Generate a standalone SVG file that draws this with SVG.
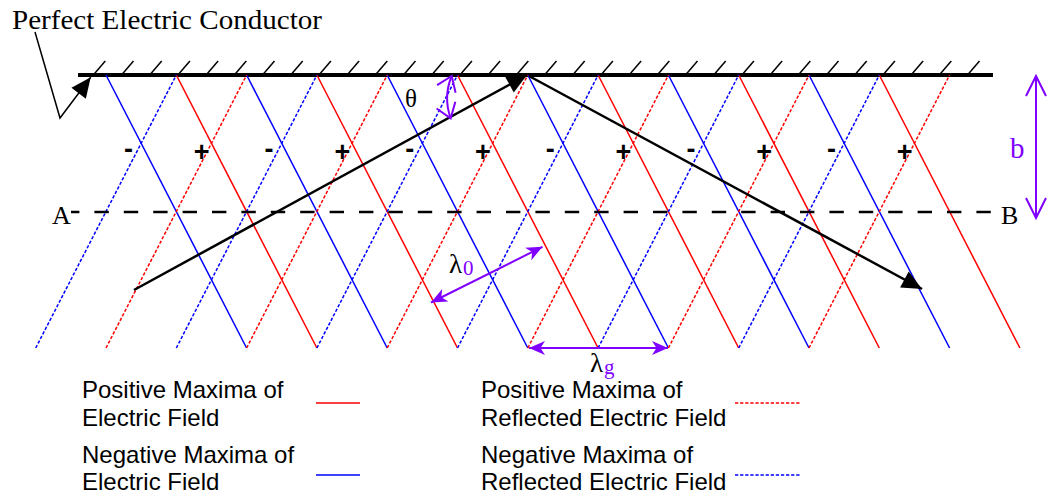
<svg xmlns="http://www.w3.org/2000/svg" width="1048" height="499" viewBox="0 0 1048 499">
<style>
.ser{font-family:"Liberation Serif","Times New Roman",serif;fill:#000}
.san{font-family:"Liberation Sans",Arial,sans-serif;fill:#000}
.pm{font-family:"Liberation Sans",Arial,sans-serif;font-weight:bold;font-size:27px;text-anchor:middle}
.pur{fill:#8000ff}
.r{stroke:#ff0000;stroke-width:1.5;fill:none}
.b{stroke:#0000ff;stroke-width:1.5;fill:none}
.rd{stroke:#ff0000;stroke-width:1.5;fill:none;stroke-dasharray:3.3 1.8}
.bd{stroke:#0000ff;stroke-width:1.5;fill:none;stroke-dasharray:3.3 1.8}
.hat{stroke:#000;stroke-width:1.5}
.pa{stroke:#8000ff;stroke-width:2;fill:none}
</style>
<defs>
<marker id="blk" markerUnits="userSpaceOnUse" markerWidth="22" markerHeight="20" refX="20" refY="9" orient="auto" overflow="visible"><path d="M0,0 L20,9 L0,18 Z" fill="#000"/></marker>
<marker id="stl" markerUnits="userSpaceOnUse" markerWidth="18" markerHeight="16" refX="16" refY="7" orient="auto-start-reverse" overflow="visible"><path d="M16,7 L0,0 L4.5,7 L0,14 Z" fill="#8000ff"/></marker>
<marker id="chv" markerUnits="userSpaceOnUse" markerWidth="16" markerHeight="22" refX="14" refY="10" orient="auto-start-reverse" overflow="visible"><path d="M0,0 L14,10 L0,20" fill="none" stroke="#8000ff" stroke-width="2"/></marker>
<marker id="chv2" markerUnits="userSpaceOnUse" markerWidth="22" markerHeight="22" refX="20" refY="10" orient="auto-start-reverse" overflow="visible"><path d="M0,0 L20,10 L0,20" fill="none" stroke="#8000ff" stroke-width="2"/></marker>
</defs>
<rect width="1048" height="499" fill="#fff"/>

<g id="conductor">
<line x1="78" y1="75" x2="993" y2="75" stroke="#000" stroke-width="4"/>
<g class="hat">
<line x1="93.3" y1="75" x2="105.3" y2="61"/><line x1="121.5" y1="75" x2="133.5" y2="61"/><line x1="149.7" y1="75" x2="161.7" y2="61"/><line x1="177.9" y1="75" x2="189.9" y2="61"/><line x1="206.1" y1="75" x2="218.1" y2="61"/><line x1="234.3" y1="75" x2="246.3" y2="61"/><line x1="262.5" y1="75" x2="274.5" y2="61"/><line x1="290.7" y1="75" x2="302.7" y2="61"/><line x1="318.9" y1="75" x2="330.9" y2="61"/><line x1="347.1" y1="75" x2="359.1" y2="61"/><line x1="375.3" y1="75" x2="387.3" y2="61"/><line x1="403.5" y1="75" x2="415.5" y2="61"/><line x1="431.7" y1="75" x2="443.7" y2="61"/><line x1="459.9" y1="75" x2="471.9" y2="61"/><line x1="488.1" y1="75" x2="500.1" y2="61"/><line x1="516.3" y1="75" x2="528.3" y2="61"/><line x1="544.5" y1="75" x2="556.5" y2="61"/><line x1="572.7" y1="75" x2="584.7" y2="61"/><line x1="600.9" y1="75" x2="612.9" y2="61"/><line x1="629.1" y1="75" x2="641.1" y2="61"/><line x1="657.3" y1="75" x2="669.3" y2="61"/><line x1="685.5" y1="75" x2="697.5" y2="61"/><line x1="713.7" y1="75" x2="725.7" y2="61"/><line x1="741.9" y1="75" x2="753.9" y2="61"/><line x1="770.1" y1="75" x2="782.1" y2="61"/><line x1="798.3" y1="75" x2="810.3" y2="61"/><line x1="826.5" y1="75" x2="838.5" y2="61"/><line x1="854.7" y1="75" x2="866.7" y2="61"/><line x1="882.9" y1="75" x2="894.9" y2="61"/><line x1="911.1" y1="75" x2="923.1" y2="61"/><line x1="939.3" y1="75" x2="951.3" y2="61"/><line x1="967.5" y1="75" x2="979.5" y2="61"/>
</g>
<text class="ser" x="12" y="29" font-size="27" textLength="310" lengthAdjust="spacingAndGlyphs">Perfect Electric Conductor</text>
<polyline points="35,32 60,118 90.7,77.3" fill="none" stroke="#000" stroke-width="1.5" marker-end="url(#blk)"/>
</g>

<g id="incident-field">
<line class="b" x1="106" y1="75" x2="246.6" y2="348"/>
<line class="r" x1="176.3" y1="75" x2="316.9" y2="348"/>
<line class="b" x1="246.6" y1="75" x2="387.2" y2="348"/>
<line class="r" x1="316.9" y1="75" x2="457.5" y2="348"/>
<line class="b" x1="387.2" y1="75" x2="527.8" y2="348"/>
<line class="r" x1="457.5" y1="75" x2="598.1" y2="348"/>
<line class="b" x1="527.8" y1="75" x2="668.4" y2="348"/>
<line class="r" x1="598.1" y1="75" x2="738.7" y2="348"/>
<line class="b" x1="668.4" y1="75" x2="809" y2="348"/>
<line class="r" x1="738.7" y1="75" x2="879.3" y2="348"/>
<line class="b" x1="809" y1="75" x2="949.6" y2="348"/>
<line class="r" x1="879.3" y1="75" x2="1019.9" y2="348"/>
</g>

<g id="reflected-field">
<line class="bd" x1="35.7" y1="348" x2="176.3" y2="75"/>
<line class="rd" x1="106" y1="348" x2="246.6" y2="75"/>
<line class="bd" x1="176.3" y1="348" x2="316.9" y2="75"/>
<line class="rd" x1="246.6" y1="348" x2="387.2" y2="75"/>
<line class="bd" x1="316.9" y1="348" x2="457.5" y2="75"/>
<line class="rd" x1="387.2" y1="348" x2="527.8" y2="75"/>
<line class="bd" x1="457.5" y1="348" x2="598.1" y2="75"/>
<line class="rd" x1="527.8" y1="348" x2="668.4" y2="75"/>
<line class="bd" x1="598.1" y1="348" x2="738.7" y2="75"/>
<line class="rd" x1="668.4" y1="348" x2="809" y2="75"/>
<line class="bd" x1="738.7" y1="348" x2="879.3" y2="75"/>
<line class="rd" x1="809" y1="348" x2="949.6" y2="75"/>
</g>

<g id="signs">
<text class="pm" x="128.5" y="158">-</text>
<text class="pm" x="201.7" y="161">+</text>
<text class="pm" x="269.1" y="158">-</text>
<text class="pm" x="342.3" y="161">+</text>
<text class="pm" x="409.7" y="158">-</text>
<text class="pm" x="482.9" y="161">+</text>
<text class="pm" x="550.3" y="158">-</text>
<text class="pm" x="623.5" y="161">+</text>
<text class="pm" x="690.9" y="158">-</text>
<text class="pm" x="764.1" y="161">+</text>
<text class="pm" x="831.5" y="158">-</text>
<text class="pm" x="904.7" y="161">+</text>
</g>

<g id="section-AB">
<line x1="71" y1="212" x2="991" y2="212" stroke="#000" stroke-width="2.5" stroke-dasharray="14.4 15" stroke-dashoffset="6"/>
<text class="ser" x="52" y="224" font-size="26">A</text>
<text class="ser" x="1001" y="224" font-size="26">B</text>
</g>

<g id="connectors">
<line x1="134" y1="290" x2="527" y2="75" stroke="#000" stroke-width="2.5" marker-end="url(#blk)"/>
<line x1="529" y1="76" x2="922" y2="289" stroke="#000" stroke-width="2.5" marker-end="url(#blk)"/>
<path class="pa" d="M451.7,76 Q443,97 450.7,118.3" marker-start="url(#chv)" marker-end="url(#chv)"/>
<line class="pa" x1="1036" y1="76" x2="1036" y2="218" marker-start="url(#chv2)" marker-end="url(#chv2)"/>
<line class="pa" x1="431" y1="302.5" x2="542.5" y2="246.8" marker-start="url(#stl)" marker-end="url(#stl)"/>
<line class="pa" x1="529" y1="348" x2="668" y2="348" marker-start="url(#stl)" marker-end="url(#stl)"/>
</g>

<g id="labels">
<text class="ser" x="405" y="107" font-size="25">θ</text>
<text class="ser pur" x="1010" y="158" font-size="29">b</text>
<text class="ser" x="449" y="273" font-size="27">λ<tspan class="pur" font-size="21" dx="1" dy="2">0</tspan></text>
<text class="ser" x="590" y="372" font-size="27">λ<tspan class="pur" font-size="21" dx="1" dy="2">g</tspan></text>
</g>

<g id="legend">
<text class="san" x="82" y="398" font-size="24">Positive Maxima of</text>
<text class="san" x="82" y="426" font-size="24">Electric Field</text>
<text class="san" x="82" y="463" font-size="24">Negative Maxima of</text>
<text class="san" x="82" y="490" font-size="24">Electric Field</text>
<line class="r" x1="316" y1="403" x2="360" y2="403"/>
<line class="b" x1="316" y1="475" x2="360" y2="475"/>
<text class="san" x="481" y="398" font-size="24">Positive Maxima of</text>
<text class="san" x="481" y="426" font-size="24">Reflected Electric Field</text>
<text class="san" x="481" y="463" font-size="24">Negative Maxima of</text>
<text class="san" x="481" y="490" font-size="24">Reflected Electric Field</text>
<line class="rd" x1="735" y1="403" x2="800" y2="403"/>
<line class="bd" x1="735" y1="475" x2="800" y2="475"/>
</g>
</svg>
